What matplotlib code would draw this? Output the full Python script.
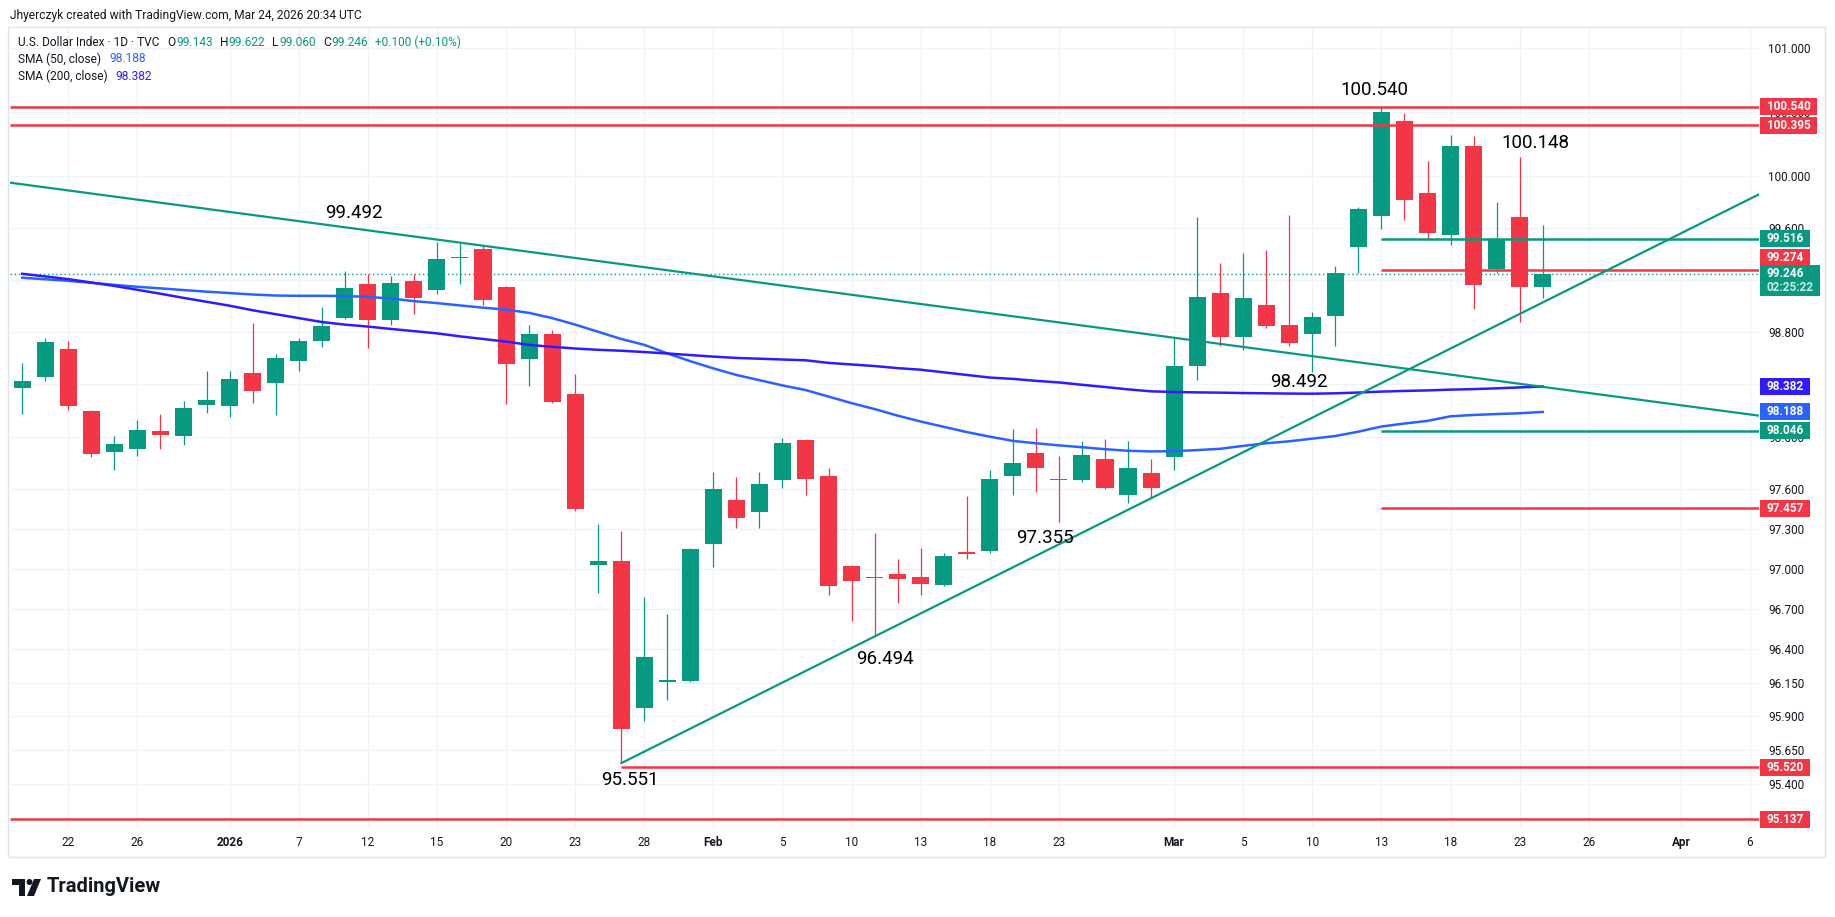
import numpy as np
import pandas as pd
import matplotlib
matplotlib.use("Agg")
import matplotlib.pyplot as plt
from matplotlib.patches import Rectangle, Polygon, Ellipse
from matplotlib.ticker import NullLocator, FuncFormatter

plt.rcParams["font.family"] = ["Roboto", "DejaVu Sans"]

W, H, DPI = 1835, 917, 100

UP = "#089981"
DOWN = "#F23645"
SMA50_C = "#2962FF"
SMA200_C = "#2E1CFF"
TEXT = "#131722"
GRID = "#F0F3FA"

# ---- data -------------------------------------------------------------
# daily bars from Dec 18, 2025 to Mar 24, 2026 (no bars on Dec 25 / Jan 1)
holidays = ["2025-12-25", "2026-01-01"]
first_day, last_future_day = "2025-12-18", "2026-04-10"

opens = [98.371, 98.452, 98.667, 98.199, 97.880, 97.903, 98.046, 98.003, 98.240, 98.233,
         98.483, 98.409, 98.578, 98.731, 98.907, 99.166, 98.892, 99.188, 99.122, 99.365,
         99.434, 99.142, 98.594, 98.780, 98.325, 97.028, 97.060, 95.958, 96.155, 96.162,
         97.186, 97.522, 97.427, 97.673, 97.974, 97.703, 97.023, 96.940, 96.962, 96.942,
         96.877, 97.128, 97.138, 97.699, 97.875, 97.675, 97.668, 97.828, 97.560, 97.728,
         97.846, 98.542, 99.100, 98.762, 99.007, 98.852, 98.785, 98.924, 99.452, 99.692,
         100.426, 99.868, 99.545, 100.232, 99.279, 99.682, 99.143]
highs = [98.560, 98.751, 98.728, 98.205, 98.008, 98.130, 98.176, 98.268, 98.498, 98.498,
         98.866, 98.629, 98.751, 98.989, 99.265, 99.247, 99.227, 99.247, 99.492, 99.485,
         99.465, 99.150, 98.855, 98.815, 98.479, 97.339, 97.289, 96.792, 96.664, 97.160,
         97.733, 97.695, 97.733, 97.989, 97.985, 97.763, 97.033, 97.272, 97.075, 97.158,
         97.121, 97.550, 97.746, 98.060, 98.065, 97.853, 97.968, 97.983, 97.968, 97.828,
         98.749, 99.684, 99.325, 99.408, 99.431, 99.697, 98.953, 99.302, 99.759, 100.540,
         100.486, 100.119, 100.318, 100.310, 99.798, 100.148, 99.622]
lows = [98.169, 98.422, 98.202, 97.849, 97.749, 97.857, 97.910, 97.939, 98.179, 98.148,
        98.256, 98.164, 98.501, 98.685, 98.900, 98.675, 98.854, 98.938, 99.091, 99.168,
        99.007, 98.248, 98.383, 98.255, 97.434, 96.817, 95.551, 95.861, 96.019, 96.155,
        97.015, 97.306, 97.311, 97.613, 97.560, 96.802, 96.611, 96.494, 96.747, 96.807,
        96.870, 97.078, 97.123, 97.560, 97.580, 97.355, 97.660, 97.601, 97.495, 97.534,
        97.746, 98.431, 98.694, 98.663, 98.831, 98.692, 98.492, 98.692, 99.250, 99.591,
        99.661, 99.503, 99.467, 98.971, 99.248, 98.878, 99.060]
closes = [98.422, 98.721, 98.233, 97.872, 97.946, 98.054, 98.010, 98.215, 98.276, 98.437,
          98.348, 98.598, 98.728, 98.843, 99.135, 98.892, 99.173, 99.056, 99.357, 99.372,
          99.045, 98.555, 98.780, 98.263, 97.454, 97.060, 95.808, 96.340, 96.165, 97.153,
          97.605, 97.382, 97.643, 97.951, 97.680, 96.870, 96.910, 96.930, 96.922, 96.885,
          97.098, 97.111, 97.680, 97.797, 97.761, 97.668, 97.859, 97.614, 97.759, 97.614,
          98.542, 99.069, 98.762, 99.061, 98.844, 98.715, 98.914, 99.248, 99.744, 100.496,
          99.816, 99.560, 100.232, 99.157, 99.516, 99.146, 99.246]
sma50 = [99.215, 99.203, 99.191, 99.176, 99.160, 99.145, 99.133, 99.120, 99.108, 99.097,
         99.086, 99.078, 99.076, 99.076, 99.074, 99.068, 99.055, 99.035, 99.020, 99.002,
         98.985, 98.970, 98.945, 98.905, 98.855, 98.800, 98.745, 98.700, 98.635, 98.575,
         98.520, 98.470, 98.430, 98.390, 98.355, 98.305, 98.255, 98.210, 98.160, 98.115,
         98.075, 98.035, 98.000, 97.968, 97.950, 97.934, 97.920, 97.905, 97.893, 97.888,
         97.890, 97.898, 97.908, 97.930, 97.950, 97.965, 97.985, 98.005, 98.038, 98.077,
         98.100, 98.120, 98.155, 98.165, 98.172, 98.178, 98.188]
sma200 = [99.245, 99.225, 99.204, 99.178, 99.152, 99.122, 99.092, 99.060, 99.030, 99.000,
          98.965, 98.935, 98.905, 98.875, 98.855, 98.840, 98.822, 98.805, 98.788, 98.765,
          98.745, 98.725, 98.700, 98.685, 98.672, 98.662, 98.655, 98.645, 98.634, 98.622,
          98.610, 98.600, 98.594, 98.588, 98.582, 98.562, 98.550, 98.538, 98.522, 98.510,
          98.490, 98.470, 98.450, 98.440, 98.425, 98.413, 98.395, 98.378, 98.360, 98.345,
          98.340, 98.337, 98.335, 98.332, 98.330, 98.328, 98.327, 98.330, 98.336, 98.343,
          98.348, 98.352, 98.358, 98.362, 98.368, 98.375, 98.382]

# drawn levels: value, colour, first date (None = whole width)
levels = [(100.540, DOWN, None), (100.395, DOWN, None),
          (99.516, UP, "2026-03-13"), (99.274, DOWN, "2026-03-13"),
          (98.046, UP, "2026-03-13"), (97.457, DOWN, "2026-03-13"),
          (95.520, DOWN, "2026-01-27"), (95.137, DOWN, None)]
# trend lines through two anchors
down_trend = [("2025-12-18", 99.936), ("2026-01-15", 99.509)]
up_trend = [("2026-01-27", 95.551), ("2026-02-11", 96.494)]

# price notes written on the chart: text, date, bar offset, price
notes = [("99.492", "2026-01-09", 0.4, 99.714),
         ("100.540", "2026-03-12", 0.69, 100.669),
         ("100.148", "2026-03-23", 0.70, 100.254),
         ("98.492", "2026-03-09", 0.44, 98.418),
         ("96.494", "2026-02-11", 0.45, 96.322),
         ("95.551", "2026-01-27", 0.39, 95.426),
         ("97.355", "2026-02-20", 0.41, 97.230)]

# price scale tags: text, price where it sits, colour
tags = [("100.540", 100.540, DOWN), ("100.395", 100.395, DOWN),
        ("99.516", 99.516, UP), ("99.274", 99.372, DOWN),
        ("99.246\n02:25:22", 99.246, UP),
        ("98.382", 98.382, SMA200_C), ("98.188", 98.188, SMA50_C),
        ("98.046", 98.046, UP), ("97.457", 97.457, DOWN),
        ("95.520", 95.520, DOWN), ("95.137", 95.137, DOWN)]

y_ticks = [95.4, 95.65, 95.9, 96.15, 96.4, 96.7, 97.0, 97.3, 97.6, 98.0,
           98.4, 98.8, 99.2, 99.6, 100.0, 100.5, 101.0]
tick_dates = ["2025-12-22", "2025-12-26", "2026-01-02", "2026-01-07", "2026-01-12",
              "2026-01-15", "2026-01-20", "2026-01-23", "2026-01-28", "2026-02-02",
              "2026-02-05", "2026-02-10", "2026-02-13", "2026-02-18", "2026-02-23",
              "2026-03-02", "2026-03-05", "2026-03-10", "2026-03-13", "2026-03-18",
              "2026-03-23", "2026-03-26", "2026-04-01", "2026-04-06"]
tick_text = ["22", "26", "2026", "7", "12", "15", "20", "23", "28", "Feb", "5", "10",
             "13", "18", "23", "Mar", "5", "10", "13", "18", "23", "26", "Apr", "6"]
bold_ticks = {"2026", "Feb", "Mar", "Apr"}

days = pd.bdate_range(first_day, last_future_day).drop(pd.to_datetime(holidays))
pos = {d.strftime("%Y-%m-%d"): i for i, d in enumerate(days)}

# ---- figure -----------------------------------------------------------
fig = plt.figure(figsize=(W / DPI, H / DPI), dpi=DPI)
fig.patch.set_facecolor("white")


def fx(px):
    return px / W


def fy(py):
    return 1 - py / H


ax = fig.add_axes([fx(10), fy(828), fx(1759) - fx(10), fy(27) - fy(828)])
ax.set_yscale("log")
ax.set_xlim(-0.532, 75.39)
ax.set_ylim(95.072, 101.162)
xl, xr = ax.get_xlim()

# candles
x = np.arange(len(opens))
o, hi, lo, c = (np.array(a) for a in (opens, highs, lows, closes))
col = np.where(c >= o, UP, DOWN)
ax.vlines(x, lo, hi, colors=col, lw=0.9, zorder=3)
ax.bar(x, np.maximum(np.abs(c - o), 0.012), bottom=np.minimum(o, c), width=0.74,
       color=col, lw=0, zorder=3)

# moving averages
ax.plot(x, sma50, color=SMA50_C, lw=1.8, zorder=4)
ax.plot(x, sma200, color=SMA200_C, lw=1.8, zorder=4)

# current price
ax.axhline(closes[-1], color=UP, lw=1, ls=(0, (1, 2)), zorder=2)

# levels
for val, color, start in levels:
    x0 = pos[start] if start else xl
    ax.plot([x0, xr], [val, val], color=color, lw=1.8, solid_capstyle="butt", zorder=5)

# trend lines
(d1, v1), (d2, v2) = down_trend
ax.axline((pos[d1], v1), (pos[d2], v2), color=UP, lw=1.6, zorder=5)
(d1, v1), (d2, v2) = up_trend
a1, a2 = pos[d1], pos[d2]
v_end = v1 * (v2 / v1) ** ((xr - a1) / (a2 - a1))
ax.plot([a1, xr], [v1, v_end], color=UP, lw=1.6, zorder=5, solid_capstyle="round")

for s, d, off, val in notes:
    ax.text(pos[d] + off, val, s, ha="center", va="center", fontsize=13.5,
            color="#000000", zorder=6)

# axes styling
ax.set_yticks(y_ticks)
ax.yaxis.set_minor_locator(NullLocator())
ax.yaxis.set_major_formatter(FuncFormatter(lambda v, _: f"{v:.3f}"))
ax.yaxis.tick_right()
ax.tick_params(axis="y", length=0, pad=6.5, labelsize=8.5, labelcolor=TEXT)
ax.set_xticks([pos[d] for d in tick_dates], tick_text)
ax.tick_params(axis="x", length=0, pad=6, labelsize=8.5, labelcolor=TEXT)
for lab in ax.get_xticklabels():
    if lab.get_text() in bold_ticks:
        lab.set_fontweight("bold")
ax.grid(True, color=GRID, lw=1.0)
ax.set_axisbelow(True)
for sp in ax.spines.values():
    sp.set_visible(False)

# pane frame
fig.add_artist(Rectangle((fx(8), fy(857)), fx(1825) - fx(8), fy(27) - fy(857),
                         fill=False, ec="#E0E3EB", lw=1, transform=fig.transFigure))

renderer = fig.canvas.get_renderer()

# price scale tags
for text, val, color in tags:
    ypx = H - ax.transData.transform((0, val))[1]
    lines = text.split("\n")
    widths = []
    for k, line in enumerate(lines):
        t = fig.text(fx(1766.5), fy(ypx + 14 * k), line, color="white",
                     alpha=1 if k == 0 else 0.8, fontsize=8.5, fontweight="bold",
                     va="center", ha="left", zorder=10)
        widths.append(t.get_window_extent(renderer).width)
    bh = 17 + 14 * (len(lines) - 1)
    fig.add_artist(Rectangle((fx(1760), fy(ypx - 8.5 + bh)), fx(max(widths) + 13), bh / H,
                             color=color, lw=0, zorder=9, transform=fig.transFigure))


def runs(x0, ypx, parts, size):
    xx = x0
    for s, color, gap in parts:
        t = fig.text(fx(xx), fy(ypx), s, color=color, fontsize=size, va="center", ha="left")
        xx += t.get_window_extent(renderer).width + gap


fig.text(fx(10), fy(15), "Jhyerczyk created with TradingView.com, Mar 24, 2026 20:34 UTC",
         fontsize=8.65, color=TEXT, va="center", ha="left")

chg = closes[-1] - closes[-2]
runs(18, 42, [("U.S. Dollar Index · 1D · TVC", TEXT, 8),
              ("O", TEXT, 0.5), (f"{opens[-1]:.3f}", UP, 7),
              ("H", TEXT, 0.5), (f"{highs[-1]:.3f}", UP, 7),
              ("L", TEXT, 0.5), (f"{lows[-1]:.3f}", UP, 7),
              ("C", TEXT, 0.5), (f"{closes[-1]:.3f}", UP, 7),
              (f"{chg:+.3f} ({chg / closes[-2] * 100:+.2f}%)", UP, 0)], 8.6)
runs(18, 59, [("SMA (50, close)", TEXT, 8), (f"{sma50[-1]:.3f}", SMA50_C, 0)], 8.6)
runs(18, 76, [("SMA (200, close)", TEXT, 8), (f"{sma200[-1]:.3f}", SMA200_C, 0)], 8.6)


# TradingView logo
def P(pts):
    return [(fx(a), fy(b)) for a, b in pts]


fig.add_artist(Polygon(P([(12, 879), (25, 879), (25, 896), (19, 896), (19, 885), (12, 885)]),
                       closed=True, color=TEXT, lw=0, transform=fig.transFigure))
fig.add_artist(Ellipse((fx(29.5), fy(882)), fx(6), 6 / H, color=TEXT, lw=0,
                       transform=fig.transFigure))
fig.add_artist(Polygon(P([(34, 879), (41, 879), (34, 896), (27, 896)]),
                       closed=True, color=TEXT, lw=0, transform=fig.transFigure))
fig.text(fx(47), fy(887), "TradingView", fontsize=14.5, fontweight="bold",
         color=TEXT, va="center", ha="left")

fig.savefig("out.png", dpi=DPI)
